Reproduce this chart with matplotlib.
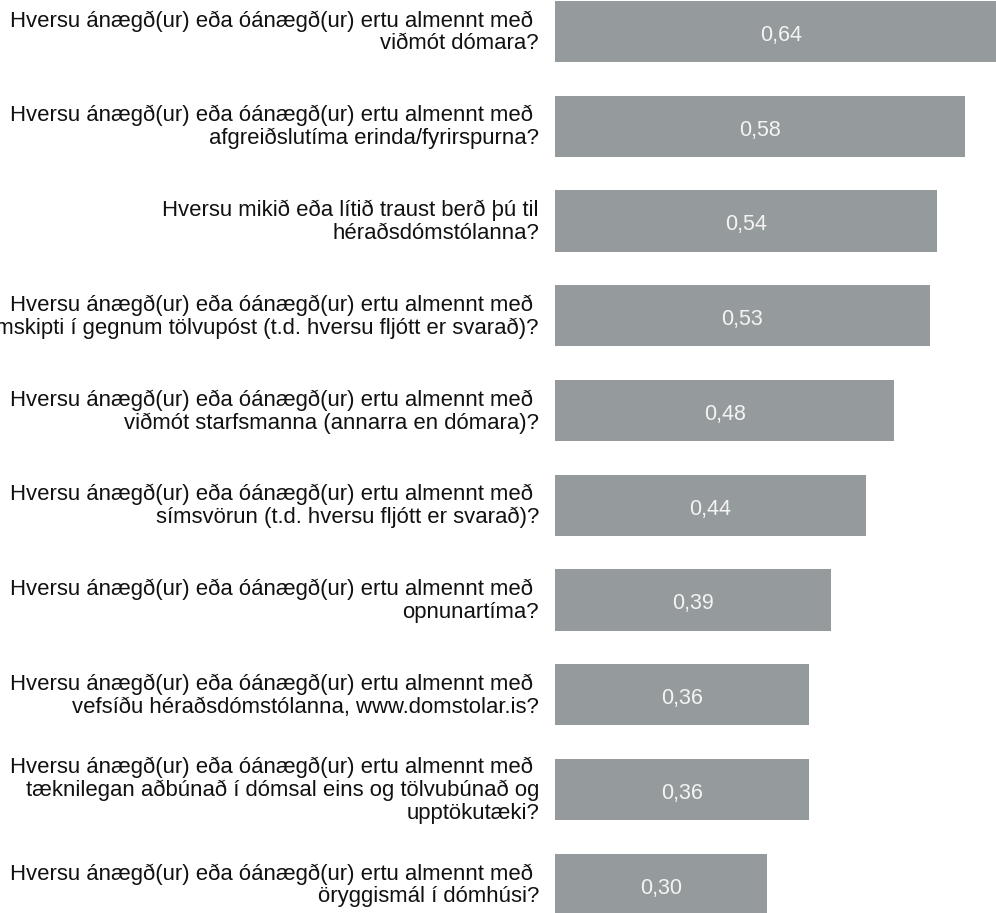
import matplotlib.pyplot as plt
from matplotlib.transforms import blended_transform_factory

plt.rcParams['font.family'] = ['Liberation Sans', 'DejaVu Sans']

QUESTIONS = [
    "Hversu ánægð(ur) eða óánægð(ur) ertu almennt með \nviðmót dómara?",
    "Hversu ánægð(ur) eða óánægð(ur) ertu almennt með \nafgreiðslutíma erinda/fyrirspurna?",
    "Hversu mikið eða lítið traust berð þú til\nhéraðsdómstólanna?",
    "Hversu ánægð(ur) eða óánægð(ur) ertu almennt með \nsamskipti í gegnum tölvupóst (t.d. hversu fljótt er svarað)?",
    "Hversu ánægð(ur) eða óánægð(ur) ertu almennt með \nviðmót starfsmanna (annarra en dómara)?",
    "Hversu ánægð(ur) eða óánægð(ur) ertu almennt með \nsímsvörun (t.d. hversu fljótt er svarað)?",
    "Hversu ánægð(ur) eða óánægð(ur) ertu almennt með \nopnunartíma?",
    "Hversu ánægð(ur) eða óánægð(ur) ertu almennt með \nvefsíðu héraðsdómstólanna, www.domstolar.is?",
    "Hversu ánægð(ur) eða óánægð(ur) ertu almennt með \ntæknilegan aðbúnað í dómsal eins og tölvubúnað og\nupptökutæki?",
    "Hversu ánægð(ur) eða óánægð(ur) ertu almennt með \nöryggismál í dómhúsi?",
]
SCORES = [0.64, 0.58, 0.54, 0.53, 0.48, 0.44, 0.39, 0.36, 0.36, 0.30]

fig = plt.figure(figsize=(9.96, 9.13), dpi=100)
ax = fig.add_axes([555 / 996, 0, 1 - 555 / 996, 1])

pos = list(range(len(SCORES)))
ax.barh(pos, SCORES, height=0.645, color="#959b9c")

# value labels sit a touch below the bar centre
for y, v in zip(pos, SCORES):
    ax.text(v / 2, y + 0.04, f"{v:.2f}".replace(".", ","), ha="center",
            va="center", color="#f4f4f4", fontsize=15.5)

trans = blended_transform_factory(fig.transFigure, ax.transData)
for y, q in zip(pos, QUESTIONS):
    ax.text(539 / 996, y + 0.01, q, transform=trans, ha="right", va="center",
            multialignment="right", fontsize=15.95, color="#111111",
            linespacing=1.1, clip_on=False)

ax.set_xlim(0, 0.624)
ax.set_ylim(9.303, -0.332)
ax.axis("off")

fig.savefig("out.png", dpi=100)
